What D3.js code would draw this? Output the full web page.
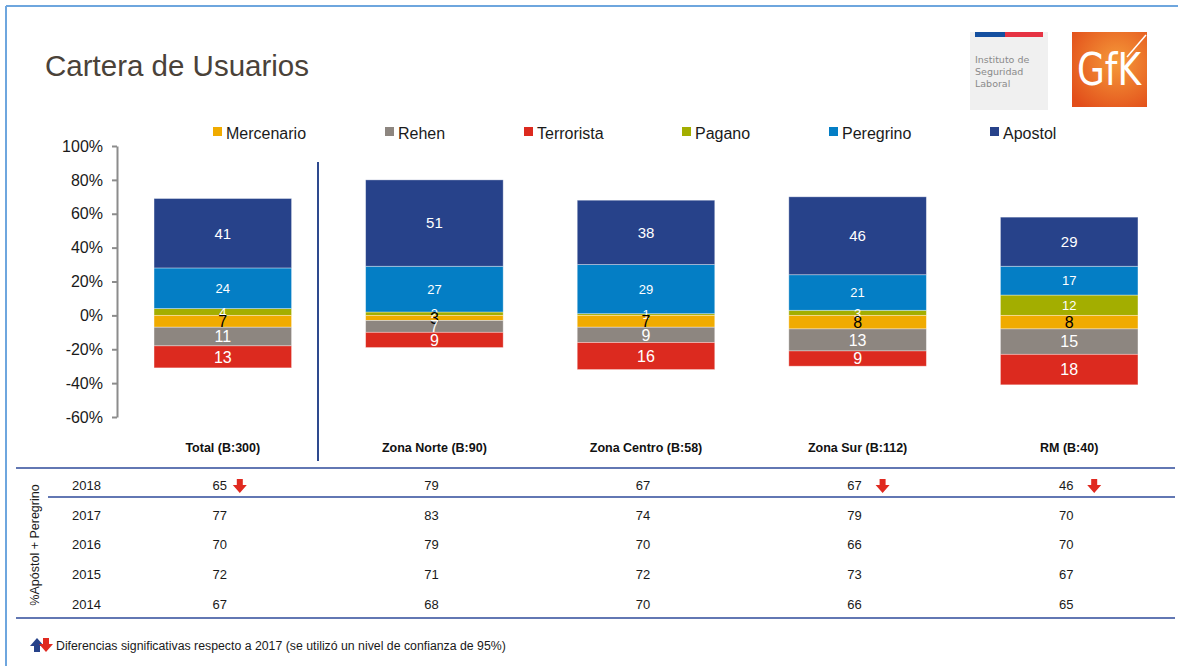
<!DOCTYPE html>
<html><head><meta charset="utf-8">
<script src="https://cdn.jsdelivr.net/npm/d3@7"></script>
<style>html,body{margin:0;padding:0;background:#fff;}svg{display:block;font-family:"Liberation Sans",Arial,sans-serif;}</style>
</head><body>
<svg id="c" width="1178" height="666"></svg>
<script>
// ---- data ----
const categories = ["Total (B:300)", "Zona Norte (B:90)", "Zona Centro (B:58)", "Zona Sur (B:112)", "RM (B:40)"];
const seriesNames = ["Mercenario", "Rehen", "Terrorista", "Pagano", "Peregrino", "Apostol"];
const mercenario = [7, 3, 7, 8, 8];
const rehen      = [11, 7, 9, 13, 15];
const terrorista = [13, 9, 16, 9, 18];
const pagano     = [4, 2, 1, 3, 12];
const peregrino  = [24, 27, 29, 21, 17];
const apostol    = [41, 51, 38, 46, 29];
const yTicks = [-60, -40, -20, 0, 20, 40, 60, 80, 100];
const tableYears = ["2018", "2017", "2016", "2015", "2014"];
const t2018 = [65, 79, 67, 67, 46];
const t2017 = [77, 83, 74, 79, 70];
const t2016 = [70, 79, 70, 66, 70];
const t2015 = [72, 71, 72, 73, 67];
const t2014 = [67, 68, 70, 66, 65];
const down2018 = [true, false, false, true, true];
const tableLabel = "%Apóstol + Peregrino";
const footnote = "Diferencias significativas respecto a 2017 (se utilizó un nivel de confianza de 95%)";

// ---- styles ----
const colors = {Mercenario:"#F0AB00", Rehen:"#8D8680", Terrorista:"#DC2A1F", Pagano:"#A3AE00", Peregrino:"#047EC5", Apostol:"#27428A"};
const labelSize = {Mercenario:16, Rehen:16, Terrorista:16, Pagano:13, Peregrino:13, Apostol:15};
const labelColor = {Mercenario:"#000", Rehen:"#fff", Terrorista:"#fff", Pagano:"#fff", Peregrino:"#fff", Apostol:"#fff"};
const valuesBy = {Mercenario:mercenario, Rehen:rehen, Terrorista:terrorista, Pagano:pagano, Peregrino:peregrino, Apostol:apostol};
const posOrder = ["Pagano", "Peregrino", "Apostol"];
const negOrder = ["Mercenario", "Rehen", "Terrorista"];

const svg = d3.select("#c");

// frame
svg.append("line").attr("x1",6).attr("x2",1178).attr("y1",6).attr("y2",6).attr("stroke","#6EA6DE").attr("stroke-width",2);
svg.append("line").attr("x1",6).attr("x2",6).attr("y1",6).attr("y2",666).attr("stroke","#6EA6DE").attr("stroke-width",2);

// title
svg.append("text").attr("x",45).attr("y",76).attr("font-size",29.5).attr("fill","#4A4239").text("Cartera de Usuarios");

// logos
const lg = svg.append("g");
lg.append("rect").attr("x",970).attr("y",32).attr("width",78).attr("height",78).attr("fill","#F0F0F0");
lg.append("rect").attr("x",975).attr("y",32).attr("width",30).attr("height",5).attr("fill","#1550A0");
lg.append("rect").attr("x",1005).attr("y",32).attr("width",38).attr("height",5).attr("fill","#E63343");
["Instituto de","Seguridad","Laboral"].forEach((t,i)=>{
  lg.append("text").attr("x",975).attr("y",63+i*12).attr("font-size",9.5).attr("font-family","DejaVu Sans, sans-serif").attr("fill","#8A8A8A").text(t);
});
const defs = svg.append("defs");
const rg = defs.append("radialGradient").attr("id","gfk").attr("cx","60%").attr("cy","40%").attr("r","75%");
rg.append("stop").attr("offset","0%").attr("stop-color","#F59A3A");
rg.append("stop").attr("offset","100%").attr("stop-color","#E24E1A");
lg.append("rect").attr("x",1072).attr("y",32).attr("width",75).attr("height",75).attr("fill","url(#gfk)");
lg.append("text").attr("x",1077).attr("y",85).attr("font-size",44).attr("font-family","DejaVu Sans Condensed, DejaVu Sans, sans-serif").attr("fill","#fff").attr("textLength",64).attr("lengthAdjust","spacingAndGlyphs").text("GfK");
lg.append("line").attr("x1",1127).attr("y1",57).attr("x2",1146).attr("y2",35).attr("stroke","#fff").attr("stroke-width",1.5);

// scales
const x = d3.scaleBand().domain(categories).range([117, 1175]).paddingInner(0.35).paddingOuter(0.175);
const y = d3.scaleLinear().domain([-60, 100]).range([417, 146]);

// y axis
const yAxis = d3.axisLeft(y).tickValues(yTicks).tickFormat(d => d + "%").tickSize(5).tickSizeOuter(0);
const ga = svg.append("g").attr("transform","translate(117,0)").call(yAxis);
ga.select(".domain").attr("stroke","#8C8C8C").attr("stroke-width",2);
ga.selectAll(".tick line").attr("stroke","#8C8C8C").attr("stroke-width",2);
ga.selectAll(".tick text").attr("font-size",16).attr("fill","#1a1a1a").attr("font-family","Liberation Sans, Arial, sans-serif").attr("x",-14);

// legend
const legendX = [213, 385, 524, 682, 829, 990];
seriesNames.forEach((s,i)=>{
  svg.append("rect").attr("x",legendX[i]).attr("y",127).attr("width",9).attr("height",9).attr("fill",colors[s]);
  svg.append("text").attr("x",legendX[i]+13).attr("y",139).attr("font-size",16).attr("fill","#1a1a1a").text(s);
});

// bars
const segs = [];
categories.forEach((c,ci)=>{
  let acc = 0;
  posOrder.forEach(s=>{ const v = valuesBy[s][ci]; segs.push({c, s, v, y0:acc, y1:acc+v}); acc += v; });
  acc = 0;
  negOrder.forEach(s=>{ const v = valuesBy[s][ci]; segs.push({c, s, v, y0:acc, y1:acc-v}); acc -= v; });
});
const bars = svg.append("g");
bars.selectAll("rect").data(segs).join("rect")
  .attr("x", d=>x(d.c)).attr("width", x.bandwidth())
  .attr("y", d=>y(Math.max(d.y0,d.y1))).attr("height", d=>Math.abs(y(d.y0)-y(d.y1)))
  .attr("fill", d=>colors[d.s]).attr("stroke","#ffffff").attr("stroke-opacity",0.45).attr("stroke-width",0.8);
bars.selectAll("text").data(segs).join("text")
  .attr("x", d=>x(d.c)+x.bandwidth()/2)
  .attr("y", d=>y((d.y0+d.y1)/2))
  .attr("dy","0.36em").attr("text-anchor","middle")
  .attr("font-size", d=>labelSize[d.s]).attr("fill", d=>labelColor[d.s])
  .text(d=>d.v);

// divider
svg.append("line").attr("x1",318).attr("x2",318).attr("y1",162).attr("y2",461).attr("stroke","#2E4A8E").attr("stroke-width",2);

// category labels
svg.append("g").selectAll("text").data(categories).join("text")
  .attr("x", d=>x(d)+x.bandwidth()/2).attr("y",452).attr("text-anchor","middle")
  .attr("font-size",12.5).attr("font-weight","bold").attr("fill","#111").text(d=>d);

// table
const rule = (x1,yy)=>svg.append("line").attr("x1",x1).attr("x2",1175).attr("y1",yy).attr("y2",yy).attr("stroke","#2E4A9A").attr("stroke-width",1.6);
rule(16,468); rule(48,497); rule(16,618);
const rows = [t2018, t2017, t2016, t2015, t2014];
const rowY = [490, 519.5, 549, 579, 608.5];
rows.forEach((r,ri)=>{
  svg.append("text").attr("x",72).attr("y",rowY[ri]).attr("font-size",13).attr("fill","#1a1a1a").text(tableYears[ri]);
  categories.forEach((c,ci)=>{
    svg.append("text").attr("x",x(c)+x.bandwidth()/2-3).attr("y",rowY[ri]).attr("text-anchor","middle").attr("font-size",13).attr("fill","#1a1a1a").text(r[ci]);
  });
});
svg.append("text").attr("transform","translate(39,545) rotate(-90)").attr("text-anchor","middle").attr("font-size",12.5).attr("fill","#1a1a1a").text(tableLabel);

// arrows
function downArrow(cx, cy, col){
  const p = `M${cx-3},${cy-7} L${cx+3},${cy-7} L${cx+3},${cy-1} L${cx+7},${cy-1} L${cx},${cy+7} L${cx-7},${cy-1} L${cx-3},${cy-1} Z`;
  svg.append("path").attr("d",p).attr("fill",col);
}
function upArrow(cx, cy, col){
  const p = `M${cx-3},${cy+7} L${cx+3},${cy+7} L${cx+3},${cy+1} L${cx+7},${cy+1} L${cx},${cy-7} L${cx-7},${cy+1} L${cx-3},${cy+1} Z`;
  svg.append("path").attr("d",p).attr("fill",col);
}
const arrowOff = [20, 28, 28, 28, 28];
categories.forEach((c,ci)=>{
  if (down2018[ci]) downArrow(x(c)+x.bandwidth()/2-3+arrowOff[ci], 486, "#E02A20");
});

// footnote
upArrow(37, 645, "#27428A");
downArrow(46, 645, "#E02A20");
svg.append("text").attr("x",56).attr("y",650).attr("font-size",12.3).attr("fill","#1a1a1a").text(footnote);
</script>
</body></html>
